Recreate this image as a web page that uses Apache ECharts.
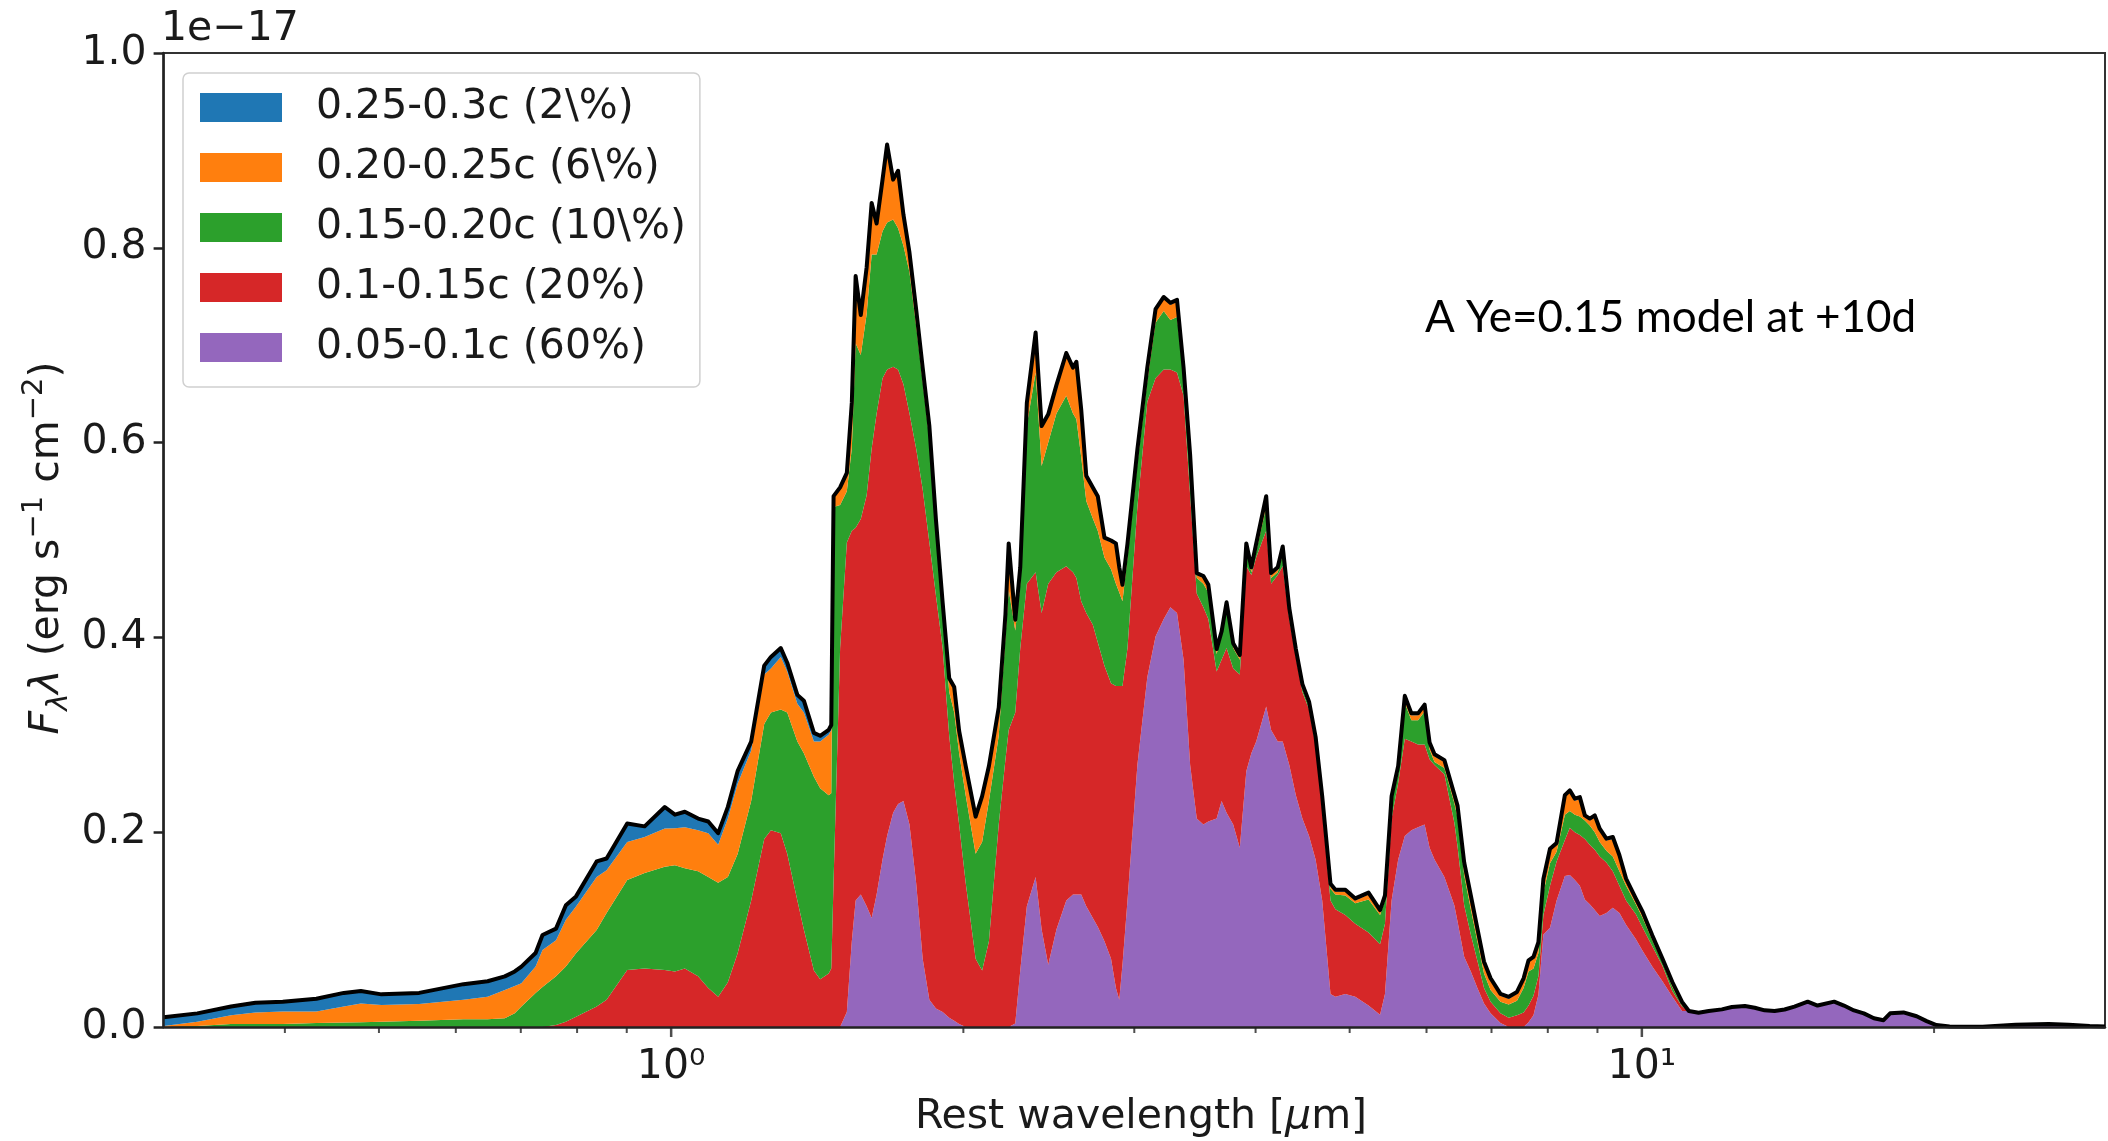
<!DOCTYPE html>
<html>
<head>
<meta charset="utf-8">
<script src="https://cdn.jsdelivr.net/npm/echarts/dist/echarts.min.js"></script>
<style>
html,body{margin:0;padding:0;background:#fff;}
#chart{width:2108px;height:1141px;}
</style>
</head>
<body>
<div id="chart"></div>
<script>
// Rest wavelength [micron]
const wavelength = [
  0.300,0.325,0.352,0.373,0.398,0.431,0.460,0.479,0.503,0.550,
  0.611,0.647,0.674,0.690,0.701,0.725,0.737,0.761,0.779,0.798,
  0.838,0.858,0.901,0.939,0.985,1.009,1.033,1.066,1.092,1.118,
  1.144,1.171,1.209,1.247,1.267,1.297,1.317,1.349,1.370,1.403,
  1.424,1.453,1.462,1.470,1.493,1.517,1.535,1.549,1.568,1.590,
  1.609,1.628,1.651,1.669,1.693,1.713,1.735,1.760,1.788,1.816,
  1.845,1.874,1.904,1.934,1.957,1.980,2.011,2.059,2.091,2.125,
  2.175,2.210,2.227,2.262,2.289,2.325,2.374,2.408,2.446,2.494,
  2.553,2.594,2.615,2.645,2.677,2.719,2.751,2.795,2.839,2.872,
  2.895,2.917,2.952,3.022,3.094,3.155,3.217,3.268,3.320,3.372,
  3.425,3.479,3.534,3.576,3.647,3.690,3.734,3.793,3.853,3.913,
  3.960,4.006,4.102,4.150,4.216,4.266,4.333,4.401,4.470,4.541,
  4.612,4.685,4.778,4.834,4.949,5.067,5.229,5.374,5.437,5.523,
  5.610,5.699,5.789,5.881,5.973,6.044,6.115,6.260,6.409,6.459,
  6.561,6.665,6.770,6.877,6.985,7.151,7.292,7.436,7.554,7.643,
  7.733,7.824,7.917,8.042,8.169,8.331,8.429,8.531,8.632,8.735,
  8.838,8.943,9.049,9.193,9.334,9.482,9.632,9.860,10.02,10.25,
  10.50,10.75,11.00,11.18,11.44,11.72,12.09,12.38,12.77,13.07,
  13.38,13.70,14.03,14.36,14.82,15.17,15.78,16.15,16.54,16.93,
  17.34,17.74,18.02,18.60,19.19,19.65,20.11,20.75,22.44,24.27,
  26.24,27.52,28.93,30.0
];

// F_lambda*lambda contributed by each ejecta velocity shell (units of 1e-17 erg/s/cm^2)
const shell005_01 = [
  0,0,0,0,0,0,0,0,0,0,
  0,0,0,0,0,0,0,0,0,0,
  0,0,0,0,0,0,0,0,0,0,
  0,0,0,0,0,0,0,0,0,0,
  0,0,0,0,0,0.0155,0.088,0.130,0.136,0.124,
  0.112,0.136,0.172,0.196,0.220,0.229,0.232,0.208,0.148,0.070,
  0.028,0.019,0.0155,0.0095,0.0065,0.003,0,0,0,0,
  0,0,0,0.0035,0.058,0.124,0.154,0.100,0.064,0.100,
  0.130,0.136,0.136,0.136,0.124,0.112,0.103,0.088,0.070,0.040,
  0.028,0.064,0.130,0.269,0.359,0.401,0.419,0.431,0.425,0.377,
  0.269,0.214,0.208,0.211,0.214,0.232,0.220,0.208,0.184,0.2625,
  0.281,0.293,0.329,0.305,0.293,0.293,0.269,0.238,0.214,0.196,
  0.172,0.130,0.034,0.031,0.034,0.031,0.022,0.0125,0.034,0.130,
  0.172,0.196,0.202,0.205,0.208,0.184,0.172,0.154,0.125,0.108,
  0.072,0.057,0.040,0.024,0.014,0.004,0,0,0,0.005,
  0.012,0.033,0.095,0.102,0.130,0.155,0.156,0.151,0.145,0.131,
  0.126,0.120,0.114,0.117,0.1225,0.117,0.105,0.090,0.078,0.062,
  0.047,0.031,0.0164,0.0164,0.0147,0.0164,0.0181,0.0205,0.0216,0.0198,
  0.0171,0.0164,0.018,0.021,0.026,0.022,0.026,0.022,0.017,0.014,
  0.009,0.007,0.014,0.015,0.011,0.006,0.002,0.0005,0.0003,0.0024,
  0.003,0.0024,0.001,0.0005
];
const shell01_015 = [
  0,0,0,0,0,0,0,0,0,0,
  0,0,0,0,0,0,0,0.002,0.0055,0.0106,
  0.021,0.028,0.0585,0.060,0.0585,0.057,0.060,0.052,0.040,0.031,
  0.046,0.076,0.130,0.193,0.202,0.199,0.178,0.130,0.100,0.058,
  0.049,0.055,0.060,0.150,0.389,0.482,0.4215,0.3825,0.3856,0.422,
  0.482,0.494,0.494,0.479,0.458,0.446,0.428,0.422,0.446,0.482,
  0.4695,0.424,0.3735,0.2895,0.244,0.205,0.148,0.070,0.058,0.088,
  0.208,0.275,0.305,0.3195,0.331,0.331,0.313,0.325,0.391,0.367,
  0.343,0.331,0.325,0.301,0.301,0.301,0.292,0.283,0.283,0.310,
  0.322,0.286,0.259,0.265,0.283,0.265,0.256,0.244,0.247,0.271,
  0.277,0.231,0.223,0.208,0.151,0.145,0.169,0.160,0.178,0.2109,
  0.183,0.1894,0.1805,0.150,0.171,0.1804,0.150,0.142,0.130,0.130,
  0.118,0.093,0.096,0.090,0.081,0.075,0.075,0.0725,0.072,0.084,
  0.0785,0.100,0.091,0.085,0.082,0.091,0.097,0.1055,0.085,0.077,
  0.053,0.038,0.028,0.016,0.012,0.010,0.0096,0.012,0.015,0.017,
  0.020,0.019,0.020,0.043,0.040,0.037,0.0486,0.049,0.052,0.062,
  0.061,0.062,0.061,0.052,0.0375,0.028,0.025,0.0257,0.024,0.021,
  0.016,0.006,0.0046,0,0,0,0,0,0,0,
  0,0,0,0,0,0,0,0,0,0,
  0,0,0,0,0,0,0,0,0,0,
  0,0,0,0
];
const shell015_020 = [
  0,0.001,0.003,0.003,0.003,0.004,0.0045,0.005,0.0055,0.0065,
  0.008,0.008,0.009,0.014,0.021,0.035,0.041,0.050,0.0565,0.065,
  0.0786,0.089,0.0925,0.098,0.106,0.109,0.103,0.108,0.114,0.117,
  0.108,0.102,0.102,0.118,0.121,0.127,0.145,0.163,0.181,0.199,
  0.196,0.183,0.180,0.384,0.147,0.0525,0.0845,0.1895,0.1684,0.186,
  0.199,0.163,0.151,0.151,0.151,0.145,0.142,0.145,0.126,0.111,
  0.1055,0.0635,0.036,0.045,0.0725,0.073,0.090,0.108,0.132,0.144,
  0.091,0.126,0.144,0.084,0.066,0.163,0.205,0.151,0.145,0.163,
  0.175,0.163,0.163,0.148,0.115,0.109,0.1145,0.111,0.117,0.105,
  0.096,0.087,0.093,0.045,0.021,0.057,0.060,0.051,0.057,0.021,
  0.036,0.016,0.024,0.027,0.018,0.024,0.042,0.021,0.015,0.0181,
  0.003,0.006,0.0245,0.006,0.003,0.012,0.006,0.003,0.003,0.003,
  0.003,0.009,0.012,0.015,0.020,0.021,0.034,0.030,0.024,0.018,
  0.0095,0.037,0.022,0.025,0.034,0.010,0.003,0.0065,0.020,0.030,
  0.031,0.026,0.020,0.015,0.012,0.012,0.0134,0.015,0.025,0.035,
  0.028,0.024,0.023,0.023,0.010,0.026,0.0171,0.018,0.019,0.019,
  0.020,0.018,0.015,0.012,0.015,0.015,0.015,0.0102,0.010,0.006,
  0.0036,0.004,0.001,0,0,0,0,0,0,0,
  0,0,0,0,0,0,0,0,0,0,
  0,0,0,0,0,0,0,0,0,0,
  0,0,0,0
];
const shell020_025 = [
  0.001,0.0045,0.009,0.012,0.013,0.012,0.0165,0.019,0.017,0.017,
  0.020,0.023,0.029,0.028,0.024,0.027,0.038,0.037,0.048,0.048,
  0.0544,0.044,0.039,0.037,0.0394,0.038,0.042,0.042,0.045,0.039,
  0.060,0.072,0.052,0.051,0.045,0.054,0.042,0.039,0.042,0.036,
  0.048,0.062,0.065,0.009,0.016,0.017,0.045,0.067,0.039,0.046,
  0.051,0.030,0.051,0.078,0.039,0.057,0.030,0.018,0.015,0.012,
  0.012,0.0125,0.009,0.012,0.024,0.021,0.028,0.036,0.045,0.034,
  0.027,0.021,0.0455,0.009,0.015,0.021,0.039,0.039,0.027,0.027,
  0.042,0.045,0.057,0.047,0.024,0.030,0.0335,0.0185,0.0275,0.0395,
  0.024,0.015,0.0125,0.012,0.012,0.012,0.0125,0.0155,0.0155,0.006,
  0.003,0.003,0.006,0.006,0.003,0.003,0.003,0.003,0.003,0.003,
  0.003,0.006,0.009,0.003,0.003,0.006,0.003,0.003,0.003,0.003,
  0.003,0.003,0.003,0.003,0.004,0.003,0.005,0.003,0.003,0.003,
  0.006,0.005,0.005,0.005,0.005,0.005,0.006,0.006,0.007,0.010,
  0.011,0.012,0.011,0.010,0.010,0.006,0.006,0.007,0.008,0.0095,
  0.010,0.009,0.012,0.013,0.007,0.018,0.0193,0.0144,0.018,0.0033,
  0.005,0.0153,0.0116,0.0104,0.0181,0.0143,0.0053,0.0039,0.0041,0.0031,
  0.0016,0.0032,0.0017,0,0,0,0,0,0,0,
  0,0,0,0,0,0,0,0,0,0,
  0,0,0,0,0,0,0,0,0,0,
  0,0,0,0
];
const shell025_03 = [
  0.009,0.0085,0.009,0.010,0.010,0.013,0.014,0.013,0.011,0.0115,
  0.016,0.016,0.014,0.015,0.017,0.014,0.0155,0.012,0.015,0.0105,
  0.016,0.012,0.019,0.011,0.022,0.014,0.016,0.012,0.012,0.012,
  0.012,0.013,0.009,0.009,0.012,0.009,0.009,0.009,0.012,0.009,
  0.006,0.005,0.005,0.002,0.002,0.002,0.002,0.002,0.002,0.002,
  0.002,0.002,0.002,0.002,0.002,0.002,0.002,0.002,0.002,0.002,
  0.002,0.002,0.002,0.002,0.002,0.002,0.002,0.002,0.002,0.002,
  0.002,0.002,0.002,0.002,0.002,0.002,0.002,0.002,0.002,0.002,
  0.002,0.002,0.002,0.002,0.002,0.002,0.002,0.002,0.002,0.002,
  0.002,0.002,0.002,0.002,0.002,0.002,0.002,0.002,0.002,0.002,
  0.002,0.002,0.002,0.002,0.002,0.002,0.002,0.002,0.002,0.002,
  0.002,0.002,0.002,0.002,0.002,0.002,0.002,0.002,0.002,0.002,
  0.002,0.002,0.002,0.002,0.002,0.002,0.002,0.002,0.002,0.002,
  0.002,0.002,0.002,0.002,0.002,0.002,0.002,0.002,0.002,0.002,
  0.002,0.002,0.002,0.002,0.002,0.002,0.002,0.002,0.002,0.002,
  0.002,0.002,0.002,0.002,0.002,0.002,0.002,0.002,0.002,0.002,
  0.002,0.002,0.002,0.002,0.002,0.002,0.002,0.002,0.002,0.002,
  0.002,0.002,0.002,0,0,0,0,0,0,0,
  0,0,0,0,0,0,0,0,0,0,
  0,0,0,0,0,0,0,0,0,0,
  0,0,0,0
];

const seriesNames = ['0.05-0.1c (60%)', '0.1-0.15c (20%)', '0.15-0.20c (10\\%)', '0.20-0.25c (6\\%)', '0.25-0.3c (2\\%)'];
const seriesColors = ['#9467bd', '#d62728', '#2ca02c', '#ff7f0e', '#1f77b4'];
const seriesValues = [shell005_01, shell01_015, shell015_020, shell020_025, shell025_03];

const xMajorTicks = [1, 10];
const xMinorTicks = [0.4, 0.5, 0.6, 0.7, 0.8, 0.9, 2, 3, 4, 5, 6, 7, 8, 9, 20];
const xTickLabels = {1: '10\u2070', 10: '10\u00B9'};

seriesValues.forEach((a, k) => {
  if (a.length !== wavelength.length) throw new Error('length mismatch series ' + k + ': ' + a.length + ' vs ' + wavelength.length);
});

const FONT = 'DejaVu Sans';
const FS = 41;
const TXT = '#1a1a1a';

const chart = echarts.init(document.getElementById('chart'), null, {renderer: 'canvas', width: 2108, height: 1141});

// value column first so that ECharts stacks the flux (y) dimension
const series = seriesValues.map((vals, k) => ({
  name: seriesNames[k],
  type: 'line',
  stack: 'total',
  data: wavelength.map((w, i) => [vals[i], w]),
  encode: {x: 1, y: 0},
  symbol: 'none',
  showSymbol: false,
  smooth: false,
  color: seriesColors[k],
  itemStyle: {color: seriesColors[k]},
  lineStyle: k === seriesValues.length - 1 ? {color: '#000', width: 4, join: 'round'} : {width: 0, opacity: 0},
  areaStyle: {color: seriesColors[k], opacity: 1},
  emphasis: {disabled: true},
  silent: true,
  z: 2
}));

series.push({
  type: 'scatter', data: xMinorTicks.map(v => [v, 0]), symbol: 'rect', symbolSize: [2, 6],
  symbolOffset: [0, 3], itemStyle: {color: '#222'}, silent: true, clip: false, z: 12
});
series.push({
  type: 'scatter', data: xMajorTicks.map(v => [v, 0]), symbol: 'rect', symbolSize: [2.5, 10],
  symbolOffset: [0, 5], itemStyle: {color: '#222'}, silent: true, clip: false, z: 12
});

const option = {
  animation: false,
  backgroundColor: '#fff',
  grid: {left: 163.6, top: 53, width: 1960, height: 974, show: true, borderColor: '#333', borderWidth: 2, backgroundColor: 'rgba(0,0,0,0)'},
  xAxis: {
    type: 'log', logBase: 10, min: 0.3, max: 30, z: 10,
    axisLine: {show: true, lineStyle: {color: '#222', width: 2.5}},
    axisTick: {show: false},
    splitLine: {show: false},
    minorTick: {show: false},
    axisLabel: {
      margin: 20, fontFamily: FONT, fontSize: FS, color: TXT,
      formatter: v => {
        for (const k of xMajorTicks) { if (Math.abs(v - k) < 1e-6 * k) return xTickLabels[k]; }
        return '';
      }
    }
  },
  yAxis: {
    type: 'value', min: 0, max: 1.0, interval: 0.2, z: 10,
    axisLine: {show: true, lineStyle: {color: '#222', width: 2.5}},
    axisTick: {show: true, length: 10, lineStyle: {color: '#222', width: 2.5}},
    splitLine: {show: false},
    axisLabel: {margin: 17, fontFamily: FONT, fontSize: FS, color: TXT, formatter: v => v.toFixed(1)}
  },
  legend: {
    orient: 'vertical', left: 183, top: 73,
    padding: [14, 14, 19, 17],
    itemWidth: 82, itemHeight: 29, itemGap: 19,
    icon: 'rect',
    selectedMode: false,
    backgroundColor: 'rgba(255,255,255,0.85)', borderColor: '#d0d0d0', borderWidth: 1.5, borderRadius: 6,
    textStyle: {fontFamily: FONT, fontSize: FS, color: TXT, lineHeight: 41, padding: [0, 0, 0, 29]},
    data: [4, 3, 2, 1, 0].map(k => ({name: seriesNames[k], icon: 'rect', itemStyle: {color: seriesColors[k], borderWidth: 0}}))
  },
  graphic: [
    {type: 'text', x: 161, y: 29, style: {text: '1e\u221217', fontFamily: FONT, fontSize: FS, fill: TXT, align: 'left', verticalAlign: 'middle'}},
    {type: 'text', x: 1425, y: 318, style: {text: 'A Ye=0.15 model at +10d', fontFamily: 'Lato', fontSize: 44, fill: '#000', align: 'left', verticalAlign: 'middle'}},
    {type: 'text', x: 1141, y: 1117, style: {
      text: '{n|Rest wavelength [}{i|\u03BC}{n|m]}', align: 'center', verticalAlign: 'middle', fill: TXT,
      rich: {n: {fontFamily: FONT, fontSize: FS, fill: TXT}, i: {fontFamily: FONT, fontStyle: 'italic', fontSize: FS, fill: TXT}}
    }},
    {type: 'text', x: 47, y: 548, rotation: Math.PI / 2, style: {
      text: '{i|F}{sub|\u03BB}{i|\u03BB}{n| (erg s}{sup|\u22121}{n| cm}{sup|\u22122}{n|)}', align: 'center', verticalAlign: 'middle', fill: TXT,
      rich: {
        i: {fontFamily: FONT, fontStyle: 'italic', fontSize: FS, lineHeight: 54, fill: TXT},
        n: {fontFamily: FONT, fontSize: FS, lineHeight: 54, fill: TXT},
        sub: {fontFamily: FONT, fontStyle: 'italic', fontSize: 29, lineHeight: 32, verticalAlign: 'bottom', fill: TXT},
        sup: {fontFamily: FONT, fontSize: 29, lineHeight: 32, verticalAlign: 'top', fill: TXT}
      }
    }}
  ],
  series: series
};
chart.setOption(option);
</script>
</body>
</html>
